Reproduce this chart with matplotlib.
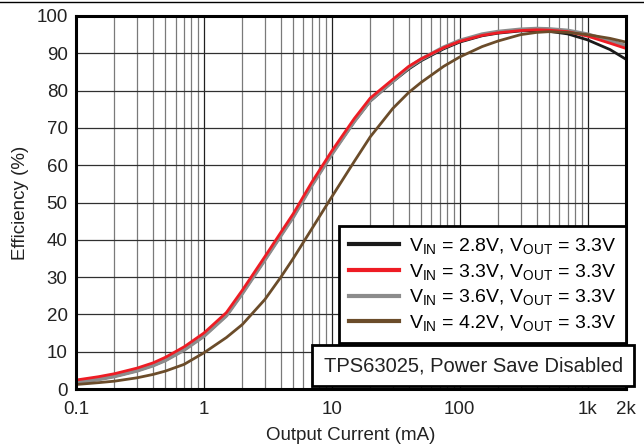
import matplotlib
matplotlib.use("Agg")
import matplotlib.pyplot as plt
from matplotlib.ticker import FixedLocator, NullFormatter, FixedFormatter
from matplotlib.lines import Line2D

plt.rcParams['font.family'] = ['Liberation Sans', 'DejaVu Sans']
plt.rcParams['mathtext.fontset'] = 'custom'
plt.rcParams['mathtext.rm'] = 'Liberation Sans'
plt.rcParams['mathtext.it'] = 'Liberation Sans'

current_ma = [0.1, 0.15, 0.2, 0.3, 0.4, 0.5, 0.7, 1, 1.5, 2, 3, 4, 5, 7, 10, 15, 20,
              30, 40, 50, 75, 100, 150, 200, 300, 400, 500, 700, 1000, 1500, 2000]
eff_28 = [1.7, 2.6, 3.4, 4.9, 6.3, 7.7, 10.5, 14.2, 19.7, 25.7, 34.7, 41.2, 46.2,
          54.7, 63.0, 71.7, 77.2, 82.4, 85.8, 88.0, 91.2, 93.0, 94.7, 95.4, 96.0,
          96.1, 95.9, 95.2, 93.6, 91.0, 88.4]
eff_33 = [2.4, 3.3, 4.1, 5.6, 7.0, 8.5, 11.3, 15.0, 20.5, 26.5, 35.5, 42.0, 47.0,
          55.5, 63.8, 72.5, 78.0, 83.0, 86.5, 88.5, 91.5, 93.2, 94.8, 95.5, 96.1,
          96.3, 96.2, 95.8, 94.6, 92.7, 91.3]
eff_36 = [1.7, 2.6, 3.4, 4.9, 6.3, 7.7, 10.5, 14.2, 19.7, 25.7, 34.7, 41.2, 46.2,
          54.7, 63.0, 71.8, 77.4, 82.6, 86.2, 88.4, 91.6, 93.4, 95.1, 95.8, 96.4,
          96.6, 96.5, 96.1, 95.1, 93.3, 92.0]
eff_42 = [1.2, 1.7, 2.1, 3.0, 3.9, 4.8, 6.6, 9.7, 13.8, 17.3, 24.0, 30.0, 35.0,
          43.0, 51.5, 61.0, 67.6, 75.2, 79.5, 82.2, 86.5, 89.0, 91.8, 93.3, 95.0,
          95.6, 95.8, 95.6, 95.0, 94.0, 93.0]

series = [
    (eff_28, '#1a1a1a', 2.0, r'V$_{\mathrm{IN}}$ = 2.8V, V$_{\mathrm{OUT}}$ = 3.3V'),
    (eff_36, '#8c8c8c', 2.8, r'V$_{\mathrm{IN}}$ = 3.6V, V$_{\mathrm{OUT}}$ = 3.3V'),
    (eff_33, '#ee1c24', 2.0, r'V$_{\mathrm{IN}}$ = 3.3V, V$_{\mathrm{OUT}}$ = 3.3V'),
    (eff_42, '#6b4c2a', 2.0, r'V$_{\mathrm{IN}}$ = 4.2V, V$_{\mathrm{OUT}}$ = 3.3V'),
]
legend_order = [0, 2, 1, 3]

x_ticks = [0.1, 1, 10, 100, 1000, 2000]
x_tick_labels = ['0.1', '1', '10', '100', '1k', '2k']
y_ticks = list(range(0, 101, 10))

fig = plt.figure(figsize=(6.44, 4.46), dpi=100)
ax = fig.add_axes([76/644, 1-389/446, (626-76)/644, (389-16)/446])

ax.set_xscale('log')
ax.set_xlim(0.1, 2000)
ax.set_ylim(0, 100)

minor = []
for d in [0.1, 1, 10, 100]:
    for m in range(2, 10):
        minor.append(d*m)
minor = [v for v in minor if v < 2000]
for v in minor:
    ax.axvline(v, color='#7a7a7a', lw=0.9, zorder=1)
for v in [1, 10, 100, 1000]:
    ax.axvline(v, color='#202020', lw=0.9, zorder=1)
for v in y_ticks[1:-1]:
    ax.axhline(v, color='#303030', lw=0.9, zorder=1)

for vals, col, lw, lab in series:
    ax.plot(current_ma, vals, color=col, lw=lw, label=lab, zorder=3,
            solid_capstyle='butt', solid_joinstyle='round')

ax.xaxis.set_major_locator(FixedLocator(x_ticks))
ax.xaxis.set_major_formatter(FixedFormatter(x_tick_labels))
ax.xaxis.set_minor_locator(FixedLocator([]))
ax.xaxis.set_minor_formatter(NullFormatter())
ax.set_yticks(y_ticks)
ax.tick_params(axis='both', length=0, labelsize=13.5, colors='#222222')
ax.tick_params(axis='y', pad=6)
ax.tick_params(axis='x', pad=9)
for s in ax.spines.values():
    s.set_linewidth(2.2)
    s.set_color('black')
    s.set_zorder(10)

ax.set_xlabel('Output Current (mA)', fontsize=13.5, color='#222222', labelpad=6)
ax.set_ylabel('Efficiency (%)', fontsize=13.5, color='#222222', labelpad=5)

handles = [Line2D([0], [0], color=series[i][1], lw=3.0) for i in legend_order]
labels = [series[i][3] for i in legend_order]
leg = ax.legend(handles, labels, loc='upper right',
                bbox_to_anchor=(1.0, (389-226)/373),
                bbox_transform=ax.transAxes, fontsize=14, frameon=True,
                fancybox=False, edgecolor='black', framealpha=1,
                borderaxespad=0, handlelength=2.6, handletextpad=0.5,
                labelspacing=0.3, borderpad=0.5)
leg.get_frame().set_linewidth(2.0)
leg.set_zorder(11)

ax.text(0.994, 0.062, 'TPS63025, Power Save Disabled', transform=ax.transAxes,
        ha='right', va='center', fontsize=14.5, color='#222222', zorder=12,
        bbox=dict(boxstyle='square,pad=0.55', fc='white', ec='black', lw=2.0))

fig.add_artist(Line2D([0, 1], [1-1.5/446, 1-1.5/446], color='black', lw=1.0,
                      transform=fig.transFigure))

fig.savefig('out.png', dpi=100)
